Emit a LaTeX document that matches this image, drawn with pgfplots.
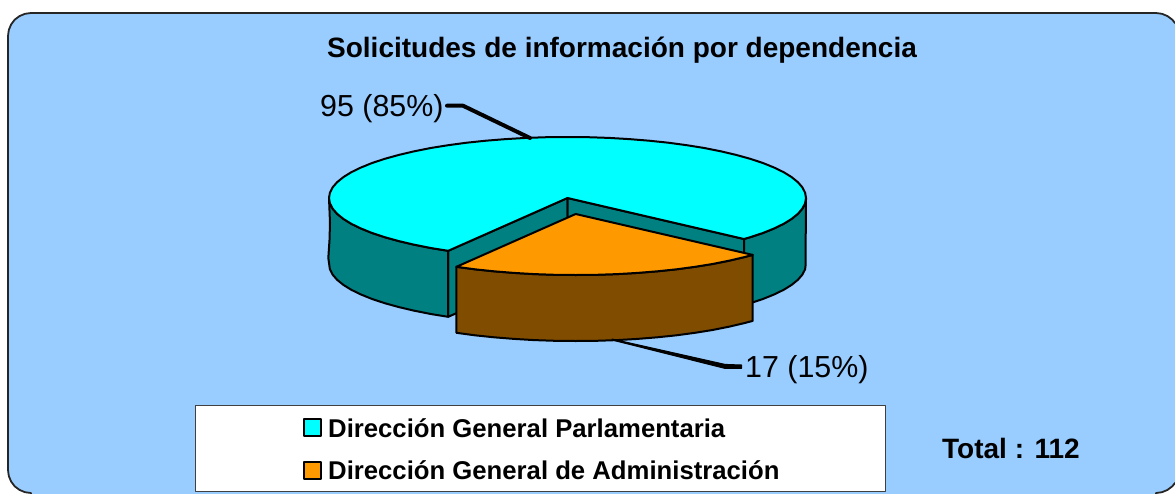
\documentclass[border=0pt]{standalone}
\usepackage{pgfplots}
\pgfplotsset{compat=1.18}
\usepackage{fontspec}
\setmainfont{Liberation Sans}
\definecolor{bgblue}{HTML}{99CCFF}
\definecolor{topcyan}{HTML}{00FFFF}
\definecolor{sideteal}{HTML}{008080}
\definecolor{toporange}{HTML}{FF9900}
\definecolor{sidebrown}{HTML}{804C00}
\begin{document}
\begin{tikzpicture}
\useasboundingbox (0,0) rectangle (1175pt,493pt);
\begin{axis}[
  scale only axis, width=1175pt, height=493pt,
  xmin=0, xmax=1175, ymin=0, ymax=493, y dir=reverse,
  hide axis, clip=true, line join=round,
]
% panel
\addplot[fill=bgblue, draw=black!85, line width=1.8pt] coordinates {
 (8,36)(8.8,30)(11.1,24.5)(14.7,19.7)(19.5,16.1)(25,13.8)(31,13)
 (1156,13)(1162,13.8)(1167.5,16.1)(1172.3,19.7)(1175,23)(1178,23)
 (1178,483)(1175,483)(1172.3,486.3)(1167.5,489.9)(1162,492.2)(1156,493)(1156,497)
 (31,497)(31,493)(25,492.2)(19.5,489.9)(14.7,486.3)(11.1,481.5)(8.8,476)(8,470)
} -- cycle;
% inner walls of the gap
\addplot[fill=sideteal, draw=black, line width=2pt] coordinates {(448.2,250.8)(567.5,198)(567.5,264)(448.2,316.8)} -- cycle;
\addplot[fill=sideteal, draw=black, line width=2pt] coordinates {(567.5,198)(744,239)(744,305)(567.5,264)} -- cycle;
% outer wall, left
\addplot[fill=sideteal, draw=black, line width=2pt] coordinates {
 (329,198)(329.9,203.3)(332.6,208.6)(337.1,213.8)(343.4,218.9)(351.3,223.8)(361,228.5)(372.1,233)(384.8,237.2)(398.9,241.1)(414.2,244.7)(430.7,248)(448.2,250.8)
 (448.2,316.8)(430.7,314)(414.2,310.7)(398.9,307.1)(384.8,303.2)(372.1,299)(361,294.5)(351.3,289.8)(343.4,284.9)(337.1,279.8)(332.6,274.6)(329.9,269.3)(328.3,258)(329.5,240)(330,223)
} -- cycle;
% outer wall, right
\addplot[fill=sideteal, draw=black, line width=2pt] coordinates {
 (744,239)(750.2,237.2)(762.9,233)(774,228.5)(783.7,223.8)(791.6,218.9)(797.9,213.8)(802.4,208.6)(805.1,203.3)(806,198)
 (805.5,266)(805.1,269.3)(802.4,274.6)(797.9,279.8)(791.6,284.9)(783.7,289.8)(774,294.5)(762.9,299)(750.2,303.2)(744,305)
} -- cycle;
% top of the large slice
\addplot[fill=topcyan, draw=black, line width=2pt] coordinates {
 (567.5,198)(448.2,250.8)(430.7,248)(414.2,244.7)(398.9,241.1)(384.8,237.2)(372.1,233)(361,228.5)(351.3,223.8)(343.4,218.9)(337.1,213.8)(332.6,208.6)(329.9,203.3)
 (329,198)(329.9,192.7)(332.6,187.4)(337.1,182.2)(343.4,177.1)(351.3,172.2)(361,167.5)(372.1,163)(384.8,158.8)(398.9,154.9)(414.2,151.3)(430.7,148)(448.2,145.2)(466.7,142.7)(485.9,140.7)(505.8,139.1)(526.1,137.9)(546.7,137.2)
 (567.5,137)(588.3,137.2)(608.9,137.9)(629.2,139.1)(649.1,140.7)(668.3,142.7)(686.8,145.2)(704.3,148)(720.8,151.3)(736.1,154.9)(750.2,158.8)(762.9,163)(774,167.5)(783.7,172.2)(791.6,177.1)(797.9,182.2)(802.4,187.4)(805.1,192.7)
 (806,198)(805.1,203.3)(802.4,208.6)(797.9,213.8)(791.6,218.9)(783.7,223.8)(774,228.5)(762.9,233)(750.2,237.2)(744,239)
} -- cycle;
% small slice, front wall
\addplot[fill=sidebrown, draw=black, line width=2pt] coordinates {
 (456.4,266.8)(474.9,269.3)(494.1,271.3)(514,272.9)(534.3,274.1)(554.9,274.8)(575.7,275)(596.5,274.8)(617.1,274.1)(637.4,272.9)(657.3,271.3)(676.5,269.3)(695,266.8)(712.5,264)(729,260.7)(744.3,257.1)(752.7,254.9)
 (752.7,320.9)(744.3,323.1)(729,326.7)(712.5,330)(695,332.8)(676.5,335.3)(657.3,337.3)(637.4,338.9)(617.1,340.1)(596.5,340.8)(575.7,341)(554.9,340.8)(534.3,340.1)(514,338.9)(494.1,337.3)(474.9,335.3)(456.4,332.8)
} -- cycle;
% small slice, top
\addplot[fill=toporange, draw=black, line width=2pt] coordinates {
 (575.7,214)(456.4,266.8)(474.9,269.3)(494.1,271.3)(514,272.9)(534.3,274.1)(554.9,274.8)(575.7,275)(596.5,274.8)(617.1,274.1)(637.4,272.9)(657.3,271.3)(676.5,269.3)(695,266.8)(712.5,264)(729,260.7)(744.3,257.1)(752.7,254.9)
} -- cycle;
% leader lines
\addplot[draw=black, line width=4pt, line cap=round] coordinates {(447,105.7)(463,105.7)(530,138)};
\addplot[draw=black, fill=black, line width=1pt] coordinates {(612,339)(725,364.4)(741.5,365)(741.5,368.4)(725,368.4)(612,340)} -- cycle;
% legend
\addplot[fill=white, draw=black!75, line width=1pt] coordinates {(195,405.7)(885,405.7)(885,491.3)(195,491.3)} -- cycle;
\addplot[fill=topcyan, draw=black, line width=1.8pt] coordinates {(304,418.8)(321,418.8)(321,435.6)(304,435.6)} -- cycle;
\addplot[fill=toporange, draw=black, line width=1.8pt] coordinates {(304,461.6)(321,461.6)(321,478.6)(304,478.6)} -- cycle;
% texts
\node[anchor=base, inner sep=0pt] at (axis cs:622,57) {\fontsize{28}{30}\selectfont\bfseries Solicitudes de información por dependencia};
\node[anchor=base west, inner sep=0pt] at (axis cs:320,116) {\fontsize{30.4}{34}\selectfont 95 (85\%)};
\node[anchor=base west, inner sep=0pt] at (axis cs:745,377) {\fontsize{30.4}{34}\selectfont 17 (15\%)};
\node[anchor=base west, inner sep=0pt] at (axis cs:328,437) {\fontsize{25.7}{28}\selectfont\bfseries Dirección General Parlamentaria};
\node[anchor=base west, inner sep=0pt] at (axis cs:328,479) {\fontsize{25.7}{28}\selectfont\bfseries Dirección General de Administración};
\node[anchor=base west, inner sep=0pt] at (axis cs:942,458) {\fontsize{28}{30}\selectfont\bfseries Total : 112};
\end{axis}
\end{tikzpicture}
\end{document}
